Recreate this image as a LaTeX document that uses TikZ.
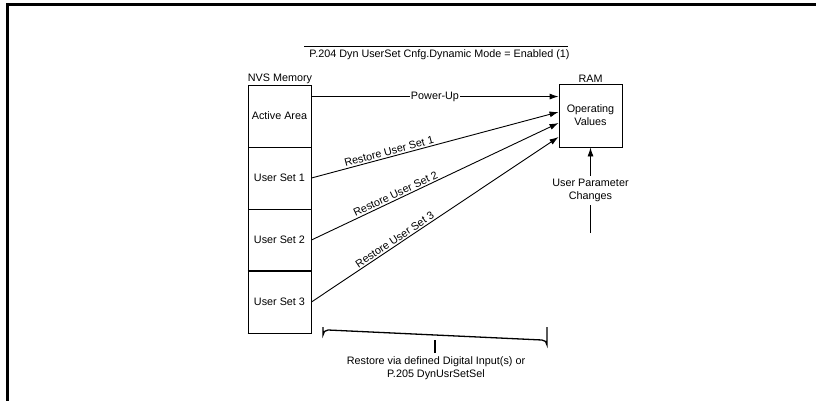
\documentclass[tikz,border=0pt]{standalone}
\usepackage{fontspec}
\setmainfont{Liberation Sans}
\usetikzlibrary{arrows.meta,calc}
\begin{document}
\begin{tikzpicture}[x=1pt,y=-1pt,
  every node/.style={font=\fontsize{10.8}{13}\selectfont, inner sep=1.5pt},
  memcell/.style={draw, line width=0.9pt, minimum width=63pt, minimum height=62pt, inner sep=0pt},
  rambox/.style={draw, line width=0.9pt, minimum width=63pt, minimum height=63pt, align=center, inner sep=0pt},
  arr/.style={line width=0.9pt, -{Latex[length=9pt,width=6pt]}},
  lbl/.style={fill=white, inner sep=1pt},
  slabel/.style={sloped, above=0.5pt, inner sep=1pt}]
\useasboundingbox (0,0) rectangle (816,401);
% frame
\draw[line width=3pt] (7,401) -- (7,5) -- (818,5);
% title
\node (title) at (439.5,55) {P.204 Dyn UserSet Cnfg.Dynamic Mode = Enabled (1)};
\draw[line width=0.8pt] (304,46) -- (568,46);
% NVS memory
\node[memcell] (aa) at (279.5,116) {Active Area};
\node[memcell] (us1) at (279.5,178) {User Set 1};
\node[memcell] (us2) at (279.5,240) {User Set 2};
\node[memcell] (us3) at (279.5,302) {User Set 3};
\draw[line width=1.6pt] (us3.north west) -- (us3.north east);
\draw[line width=1.6pt] (us3.south west) -- (us3.south east);
\node (nvs) at (280,79) {NVS Memory};
% RAM
\node[rambox] (ram) at (590.5,115.5) {Operating\\Values};
\node (ramlbl) at (590.5,79) {RAM};
% arrows
\draw[arr] ([yshift=-12pt]aa.north east) -- ([yshift=-12pt]aa.north east -| ram.west)
  node[midway, lbl] {Power-Up};
\draw[arr] (us1.east) -- ([yshift=3.5pt]ram.west)
  node[pos=0.32, slabel] {Restore User Set 1};
\draw[arr] (us2.east) -- ([yshift=-7.5pt]ram.west)
  node[pos=0.35, slabel] {Restore User Set 2};
\draw[arr] (us3.east) -- ([yshift=-21.5pt]ram.west)
  node[pos=0.35, slabel] {Restore User Set 3};
% user parameter changes
\coordinate (upc) at (590.5,233);
\draw[arr] (upc) -- (ram.south)
  node[midway, lbl, align=center, inner sep=3pt] {User Parameter\\Changes};
% brace
\draw[line width=1.3pt] (323,327) -- (323,335) arc[start angle=180, end angle=90, radius=5pt]
  -- (542,340) arc[start angle=90, end angle=0, radius=5pt] -- (547,327);
\coordinate (bt) at (435,340);
\coordinate (bb) at (435,353);
\draw[line width=1.3pt] (bt) -- (bb);
\node[align=center, anchor=north] (restore) at (436,355) {Restore via defined Digital Input(s) or\\P.205 DynUsrSetSel};
\end{tikzpicture}
\end{document}
